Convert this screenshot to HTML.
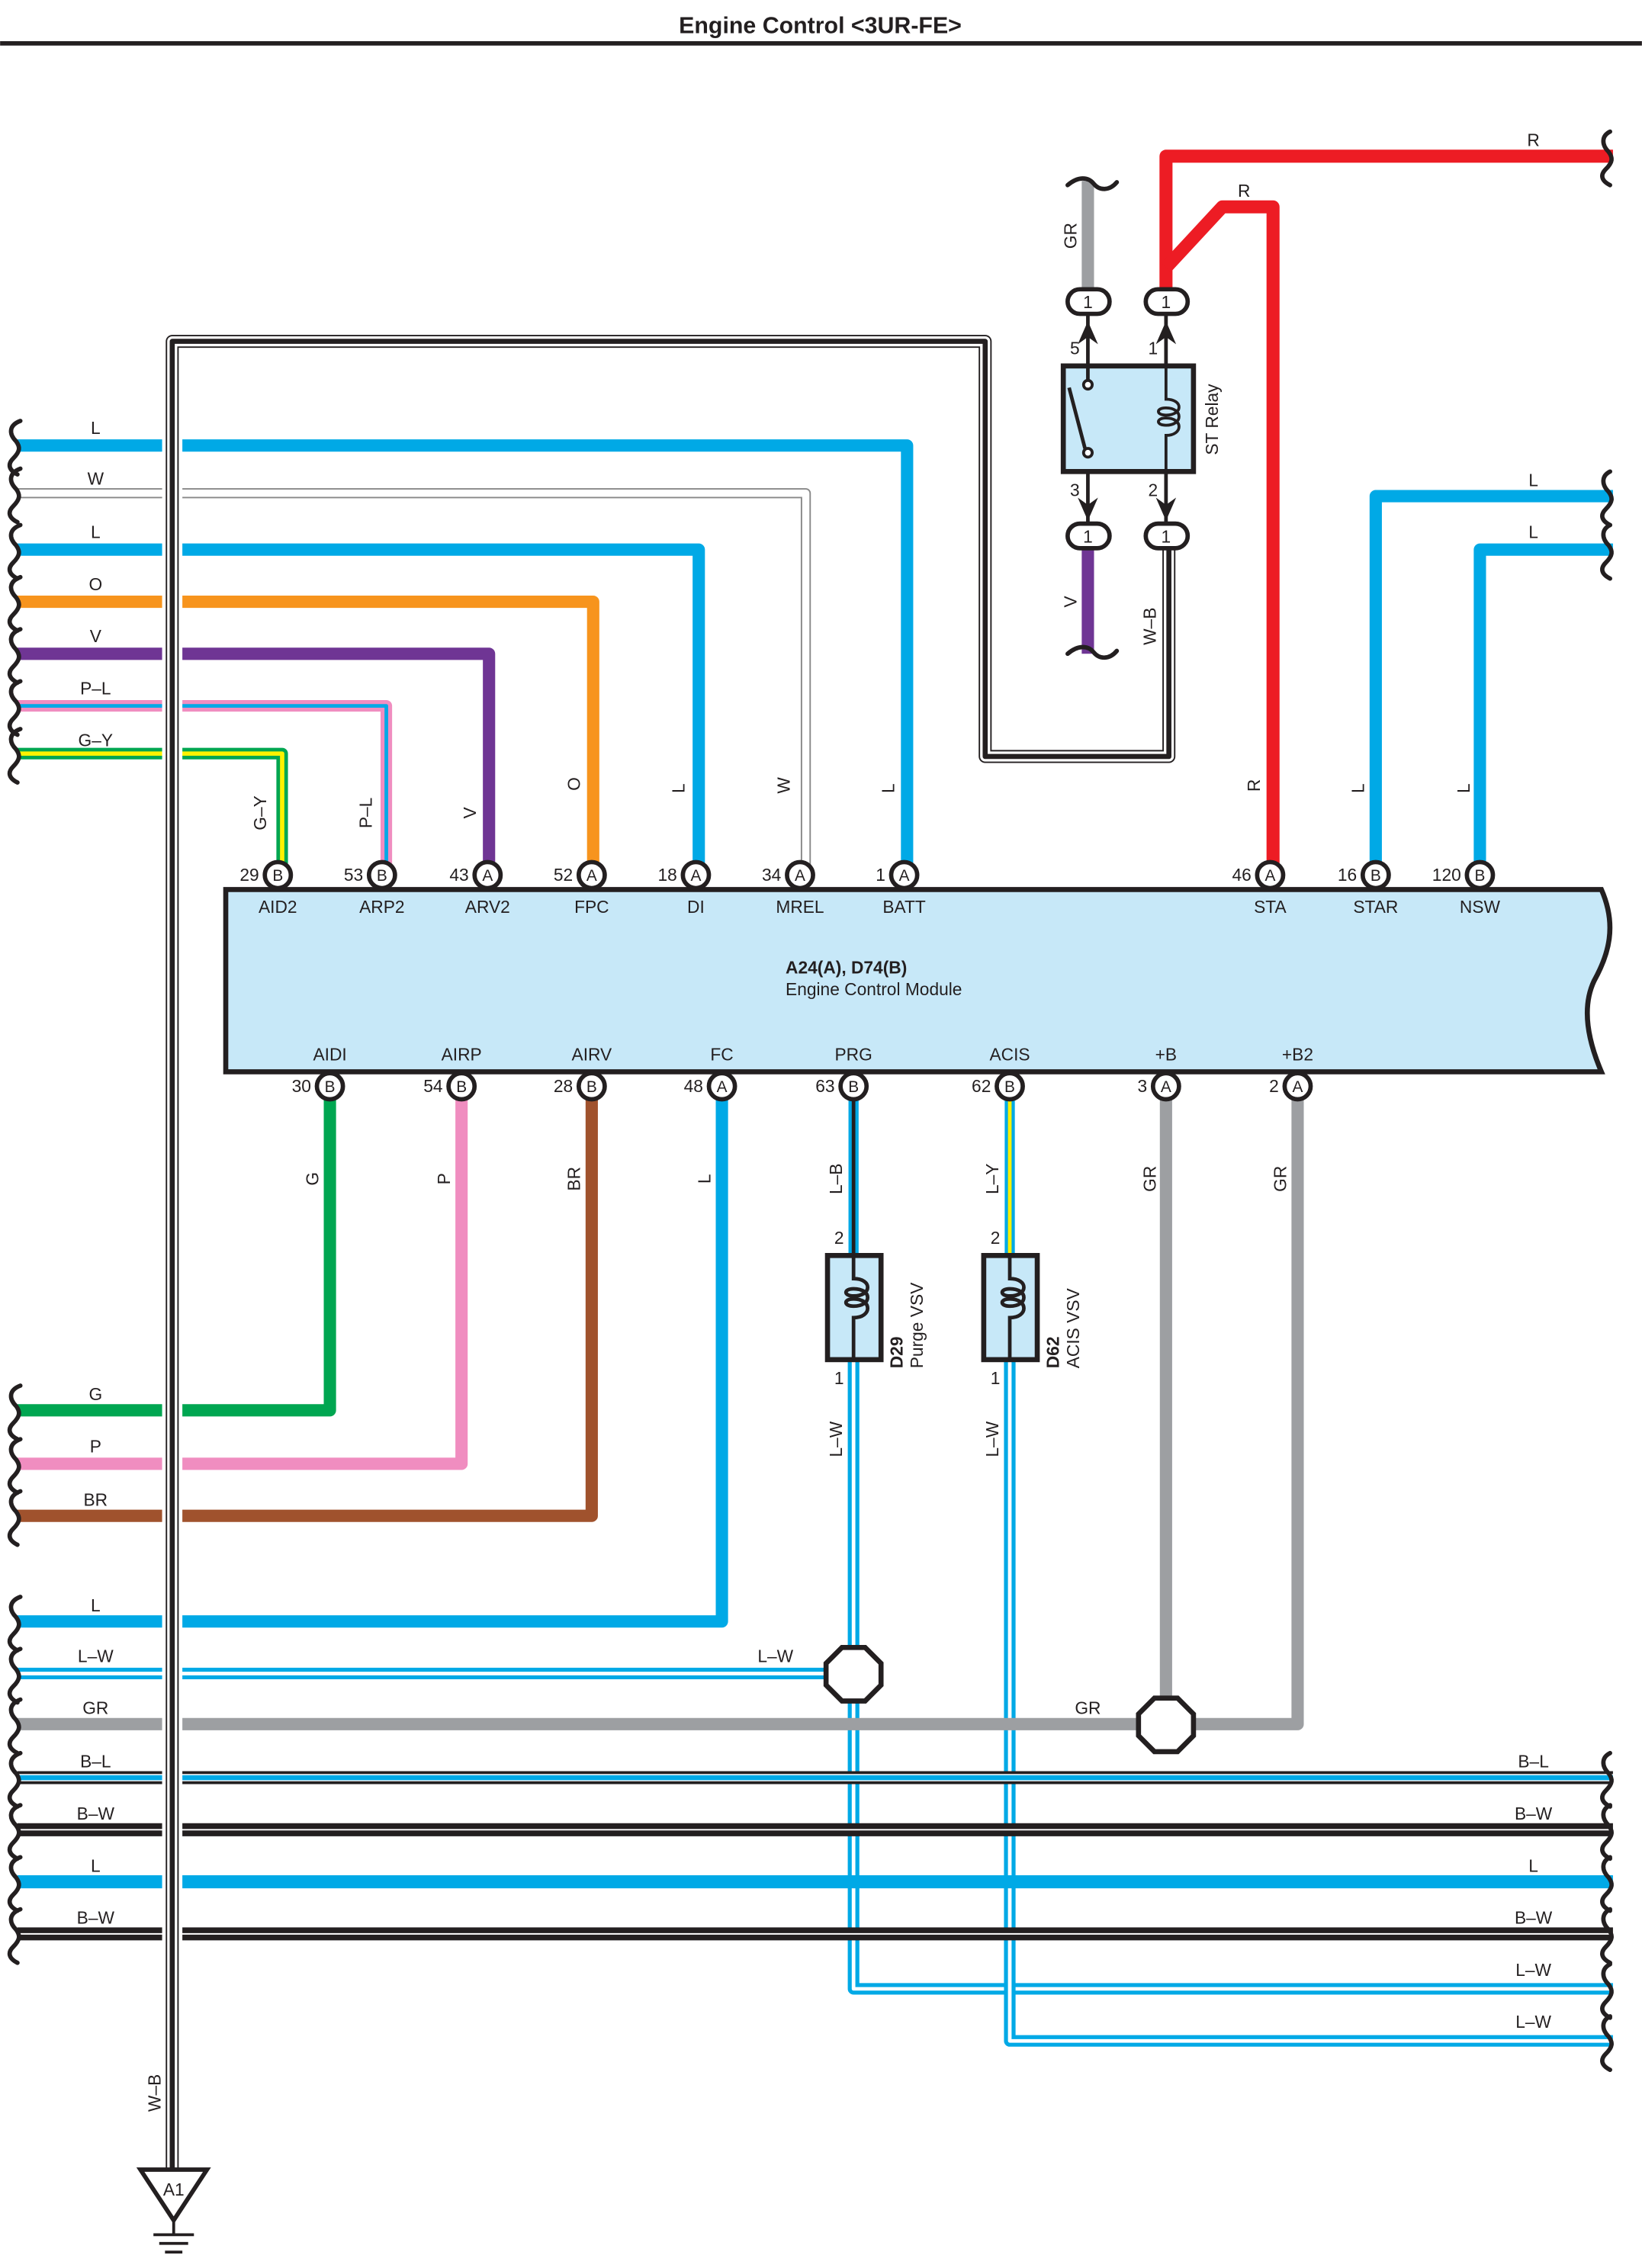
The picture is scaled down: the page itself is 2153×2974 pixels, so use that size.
<!DOCTYPE html>
<html><head><meta charset="utf-8"><style>
html,body{margin:0;padding:0;background:#fff}
svg{display:block}
text{font-family:"Liberation Sans",sans-serif;fill:#231f20}
</style></head><body>
<svg width="2153" height="2974" viewBox="0 0 1135 1568" xmlns="http://www.w3.org/2000/svg">
<defs>
<path id="wl" d="M14,-17 C6,-14 6,-8 11,-3 C14,1 14,4 9,9 C5,13 6,17 12,20" fill="none" stroke="#231f20" stroke-width="3" stroke-linecap="round"/>
<path id="wr" d="M-2,-17 C-8,-14 -8,-8 -3,-3 C0,1 0,4 -5,9 C-9,13 -8,17 -2,20" fill="none" stroke="#231f20" stroke-width="3" stroke-linecap="round"/>
</defs>
<rect width="1135" height="1568" fill="#fff"/>
<text x="567" y="23" font-size="16" font-weight="bold" text-anchor="middle">Engine Control &lt;3UR-FE&gt;</text>
<line x1="0" y1="30" x2="1135" y2="30" stroke="#231f20" stroke-width="3"/>

<g fill="none" stroke-linejoin="round">
<path d="M12,308 H627 V598" stroke="#00a9e6" stroke-width="8.5"/>
<path d="M12,341 H557 V598" stroke="#888" stroke-width="7"/>
<path d="M12,341 H557 V598" stroke="#fff" stroke-width="5"/>
<path d="M12,380 H483 V598" stroke="#00a9e6" stroke-width="8.5"/>
<path d="M12,416 H410 V598" stroke="#f7941d" stroke-width="8.5"/>
<path d="M12,452 H338 V598" stroke="#6f3594" stroke-width="8.5"/>
<path d="M12,488 H267 V598" stroke="#f08dc0" stroke-width="8"/>
<path d="M12,488 H267 V598" stroke="#00a9e6" stroke-width="2.5"/>
<path d="M12,521 H195 V598" stroke="#00a651" stroke-width="8"/>
<path d="M12,521 H195 V598" stroke="#fff200" stroke-width="3"/>

<path d="M806,200 V108 H1115" stroke="#ed1c24" stroke-width="9"/>
<path d="M806,185 L845,143 H880 V598" stroke="#ed1c24" stroke-width="9"/>
<path d="M752,125 V200" stroke="#9d9fa2" stroke-width="8.5"/>
<path d="M752,380 V452" stroke="#6f3594" stroke-width="8.5"/>
<path d="M951,598 V343 H1115" stroke="#00a9e6" stroke-width="8.5"/>
<path d="M1023,598 V380 H1115" stroke="#00a9e6" stroke-width="8.5"/>

<path d="M228,758 V975 H12" stroke="#00a651" stroke-width="8.5"/>
<path d="M319,758 V1012 H12" stroke="#f08dc0" stroke-width="8.5"/>
<path d="M409,758 V1048 H12" stroke="#a0522d" stroke-width="8.5"/>
<path d="M499,758 V1121 H12" stroke="#00a9e6" stroke-width="8.5"/>
<path d="M590,758 V868" stroke="#00a9e6" stroke-width="7"/>
<path d="M590,758 V868" stroke="#231f20" stroke-width="2.5"/>
<path d="M698,758 V868" stroke="#00a9e6" stroke-width="7"/>
<path d="M698,758 V868" stroke="#fff200" stroke-width="2.5"/>
<path d="M590,940 V1375 H1115" stroke="#00a9e6" stroke-width="8"/>
<path d="M590,940 V1375 H1115" stroke="#fff" stroke-width="2.5"/>
<path d="M698,940 V1411 H1115" stroke="#00a9e6" stroke-width="8"/>
<path d="M698,940 V1411 H1115" stroke="#fff" stroke-width="2.5"/>
<path d="M12,1157 H590" stroke="#00a9e6" stroke-width="8"/>
<path d="M12,1157 H590" stroke="#fff" stroke-width="2.5"/>
<path d="M806,758 V1192" stroke="#9d9fa2" stroke-width="8.5"/>
<path d="M897,758 V1192 H806" stroke="#9d9fa2" stroke-width="8.5"/>
<path d="M12,1192 H806" stroke="#9d9fa2" stroke-width="8.5"/>
<path d="M12,1229 H1115" stroke="#231f20" stroke-width="9"/>
<path d="M12,1229 H1115" stroke="#fff" stroke-width="5"/>
<path d="M12,1229 H1115" stroke="#00a9e6" stroke-width="3.5"/>
<path d="M12,1265 H1115" stroke="#231f20" stroke-width="9"/>
<path d="M12,1265 H1115" stroke="#fff" stroke-width="1"/>
<path d="M12,1301 H1115" stroke="#00a9e6" stroke-width="9"/>
<path d="M12,1337 H1115" stroke="#231f20" stroke-width="9"/>
<path d="M12,1337 H1115" stroke="#fff" stroke-width="1"/>

<path d="M119,1505 V236 H681 V523 H808 V380" stroke="#fff" stroke-width="14"/>
<path d="M119,1505 V236 H681 V523 H808 V380" stroke="#231f20" stroke-width="9"/>
<path d="M119,1505 V236 H681 V523 H808 V380" stroke="#fff" stroke-width="7"/>
<path d="M119,1505 V236 H681 V523 H808 V380" stroke="#231f20" stroke-width="3.5"/>
</g>

<g>
<use href="#wl" x="0" y="308"/><use href="#wl" x="0" y="341"/><use href="#wl" x="0" y="380"/><use href="#wl" x="0" y="416"/><use href="#wl" x="0" y="452"/><use href="#wl" x="0" y="488"/><use href="#wl" x="0" y="521"/>
<use href="#wl" x="0" y="975"/><use href="#wl" x="0" y="1012"/><use href="#wl" x="0" y="1048"/><use href="#wl" x="0" y="1121"/><use href="#wl" x="0" y="1157"/><use href="#wl" x="0" y="1192"/><use href="#wl" x="0" y="1229"/><use href="#wl" x="0" y="1265"/><use href="#wl" x="0" y="1301"/><use href="#wl" x="0" y="1337"/>
<use href="#wr" x="1115" y="108"/><use href="#wr" x="1115" y="343"/><use href="#wr" x="1115" y="380"/><use href="#wr" x="1115" y="1229"/><use href="#wr" x="1115" y="1265"/><use href="#wr" x="1115" y="1301"/><use href="#wr" x="1115" y="1337"/><use href="#wr" x="1115" y="1375"/><use href="#wr" x="1115" y="1411"/>
<path d="M738,128 C745,122 752,122 756,127 C760,132 767,132 772,126" fill="none" stroke="#231f20" stroke-width="3" stroke-linecap="round"/>
<path d="M738,452 C745,446 752,446 756,451 C760,456 767,456 772,450" fill="none" stroke="#231f20" stroke-width="3" stroke-linecap="round"/>
</g>

<g font-size="12" text-anchor="middle">
<text x="66" y="300">L</text><text x="66" y="335">W</text><text x="66" y="372">L</text><text x="66" y="408">O</text><text x="66" y="444">V</text><text x="66" y="480">P–L</text><text x="66" y="516">G–Y</text>
<text x="66" y="968">G</text><text x="66" y="1004">P</text><text x="66" y="1041">BR</text><text x="66" y="1114">L</text><text x="66" y="1149">L–W</text><text x="66" y="1185">GR</text><text x="66" y="1222">B–L</text><text x="66" y="1258">B–W</text><text x="66" y="1294">L</text><text x="66" y="1330">B–W</text>
<text x="1060" y="101">R</text><text x="860" y="136">R</text><text x="1060" y="336">L</text><text x="1060" y="372">L</text>
<text x="1060" y="1222">B–L</text><text x="1060" y="1258">B–W</text><text x="1060" y="1294">L</text><text x="1060" y="1330">B–W</text><text x="1060" y="1366">L–W</text><text x="1060" y="1402">L–W</text>
<text x="536" y="1149">L–W</text><text x="752" y="1185">GR</text>
</g>
<g font-size="12" text-anchor="middle">
<text transform="translate(184,562) rotate(-90)">G–Y</text>
<text transform="translate(257,562) rotate(-90)">P–L</text>
<text transform="translate(329,562) rotate(-90)">V</text>
<text transform="translate(401,542) rotate(-90)">O</text>
<text transform="translate(473,545) rotate(-90)">L</text>
<text transform="translate(546,543) rotate(-90)">W</text>
<text transform="translate(618,545) rotate(-90)">L</text>
<text transform="translate(871,543) rotate(-90)">R</text>
<text transform="translate(943,545) rotate(-90)">L</text>
<text transform="translate(1016,545) rotate(-90)">L</text>
<text transform="translate(744,163) rotate(-90)">GR</text>
<text transform="translate(744,416) rotate(-90)">V</text>
<text transform="translate(799,433) rotate(-90)">W–B</text>
<text transform="translate(220,815) rotate(-90)">G</text>
<text transform="translate(311,815) rotate(-90)">P</text>
<text transform="translate(401,815) rotate(-90)">BR</text>
<text transform="translate(491,815) rotate(-90)">L</text>
<text transform="translate(582,815) rotate(-90)">L–B</text>
<text transform="translate(690,815) rotate(-90)">L–Y</text>
<text transform="translate(799,815) rotate(-90)">GR</text>
<text transform="translate(889,815) rotate(-90)">GR</text>
<text transform="translate(582,995) rotate(-90)">L–W</text>
<text transform="translate(690,995) rotate(-90)">L–W</text>
<text transform="translate(111,1447) rotate(-90)">W–B</text>
</g>

<path d="M156,615 H1107 C1118,640 1112,660 1102,678 C1093,697 1098,720 1107,741 H156 Z" fill="#c7e8f8" stroke="#231f20" stroke-width="3.5"/>
<text x="543" y="673" font-size="12" font-weight="bold">A24(A), D74(B)</text>
<text x="543" y="688" font-size="12">Engine Control Module</text>
<g font-size="12" text-anchor="middle">
<text x="192" y="631">AID2</text><text x="264" y="631">ARP2</text><text x="337" y="631">ARV2</text><text x="409" y="631">FPC</text><text x="481" y="631">DI</text><text x="553" y="631">MREL</text><text x="625" y="631">BATT</text><text x="878" y="631">STA</text><text x="951" y="631">STAR</text><text x="1023" y="631">NSW</text>
<text x="228" y="733">AIDI</text><text x="319" y="733">AIRP</text><text x="409" y="733">AIRV</text><text x="499" y="733">FC</text><text x="590" y="733">PRG</text><text x="698" y="733">ACIS</text><text x="806" y="733">+B</text><text x="897" y="733">+B2</text>
</g>

<g font-size="11" text-anchor="middle">
<g stroke="#231f20" stroke-width="3" fill="#fff">
<circle cx="192" cy="605" r="9"/><circle cx="264" cy="605" r="9"/><circle cx="337" cy="605" r="9"/><circle cx="409" cy="605" r="9"/><circle cx="481" cy="605" r="9"/><circle cx="553" cy="605" r="9"/><circle cx="625" cy="605" r="9"/><circle cx="878" cy="605" r="9"/><circle cx="951" cy="605" r="9"/><circle cx="1023" cy="605" r="9"/>
<circle cx="228" cy="751" r="9"/><circle cx="319" cy="751" r="9"/><circle cx="409" cy="751" r="9"/><circle cx="499" cy="751" r="9"/><circle cx="590" cy="751" r="9"/><circle cx="698" cy="751" r="9"/><circle cx="806" cy="751" r="9"/><circle cx="897" cy="751" r="9"/>
</g>
<text x="192" y="609">B</text><text x="264" y="609">B</text><text x="337" y="609">A</text><text x="409" y="609">A</text><text x="481" y="609">A</text><text x="553" y="609">A</text><text x="625" y="609">A</text><text x="878" y="609">A</text><text x="951" y="609">B</text><text x="1023" y="609">B</text>
<text x="228" y="755">B</text><text x="319" y="755">B</text><text x="409" y="755">B</text><text x="499" y="755">A</text><text x="590" y="755">B</text><text x="698" y="755">B</text><text x="806" y="755">A</text><text x="897" y="755">A</text>
</g>
<g font-size="12" text-anchor="end">
<text x="179" y="609">29</text><text x="251" y="609">53</text><text x="324" y="609">43</text><text x="396" y="609">52</text><text x="468" y="609">18</text><text x="540" y="609">34</text><text x="612" y="609">1</text><text x="865" y="609">46</text><text x="938" y="609">16</text><text x="1010" y="609">120</text>
<text x="215" y="755">30</text><text x="306" y="755">54</text><text x="396" y="755">28</text><text x="486" y="755">48</text><text x="577" y="755">63</text><text x="685" y="755">62</text><text x="793" y="755">3</text><text x="884" y="755">2</text>
</g>

<g stroke="#231f20" fill="none">
<line x1="752" y1="215" x2="752" y2="368" stroke-width="2.5"/>
<line x1="806" y1="215" x2="806" y2="368" stroke-width="2.5"/>
<rect x="735" y="253" width="90" height="73" fill="#c7e8f8" stroke-width="3.5"/>
<line x1="752" y1="253" x2="752" y2="263" stroke-width="2.5"/>
<circle cx="752" cy="266" r="3" fill="#fff" stroke-width="2"/>
<circle cx="752" cy="313" r="3" fill="#fff" stroke-width="2"/>
<line x1="739" y1="268" x2="750" y2="310" stroke-width="2.5"/>
<rect x="800" y="262" width="20" height="50" fill="#c7e8f8" stroke="none"/>
<path d="M806,253 V276 C818,276 818,287 806,287 C799,287 799,282 806,282 C818,282 818,294 806,294 C799,294 799,289 806,289 C818,289 818,301 806,301 V326" stroke-width="2"/>
<g fill="#231f20" stroke="none">
<path d="M745,238 L752,222 L759,238 L752,233 Z"/><path d="M799,238 L806,222 L813,238 L806,233 Z"/>
<path d="M745,344 L752,360 L759,344 L752,349 Z"/><path d="M799,344 L806,360 L813,344 L806,349 Z"/>
</g>
<g fill="#fff" stroke-width="3">
<rect x="738" y="200" width="29" height="17" rx="8.5"/><rect x="792" y="200" width="29" height="17" rx="8.5"/>
<rect x="738" y="362" width="29" height="17" rx="8.5"/><rect x="792" y="362" width="29" height="17" rx="8.5"/>
</g>
</g>
<g font-size="12" text-anchor="middle">
<text x="752" y="213">1</text><text x="806" y="213">1</text><text x="752" y="375">1</text><text x="806" y="375">1</text>
<text x="743" y="245">5</text><text x="797" y="245">1</text><text x="743" y="343">3</text><text x="797" y="343">2</text>
<text transform="translate(842,290) rotate(-90)">ST Relay</text>
</g>

<g stroke="#231f20" fill="#c7e8f8">
<rect x="572" y="868" width="37" height="72" stroke-width="3.5"/>
<path d="M590,868 V884 C603,884 603,896 590,896 C583,896 583,891 590,891 C603,891 603,903 590,903 C583,903 583,898 590,898 C603,898 603,911 590,911 V940" stroke-width="2.5" fill="none"/>
<rect x="680" y="868" width="37" height="72" stroke-width="3.5"/>
<path d="M698,868 V884 C711,884 711,896 698,896 C691,896 691,891 698,891 C711,891 711,903 698,903 C691,903 691,898 698,898 C711,898 711,911 698,911 V940" stroke-width="2.5" fill="none"/>
</g>
<g font-size="12" text-anchor="middle">
<text x="580" y="860">2</text><text x="580" y="957">1</text><text x="688" y="860">2</text><text x="688" y="957">1</text>
</g>
<g font-size="12">
<text transform="translate(624,946) rotate(-90)" font-weight="bold">D29</text>
<text transform="translate(638,946) rotate(-90)">Purge VSV</text>
<text transform="translate(732,946) rotate(-90)" font-weight="bold">D62</text>
<text transform="translate(746,946) rotate(-90)">ACIS VSV</text>
</g>

<polygon points="582,1139 598,1139 609,1150 609,1165 598,1176 582,1176 571,1165 571,1150" fill="#fff" stroke="#231f20" stroke-width="3.5"/>
<polygon points="798,1174 814,1174 825,1185 825,1200 814,1211 798,1211 787,1200 787,1185" fill="#fff" stroke="#231f20" stroke-width="3.5"/>

<polygon points="97,1500 143,1500 120,1535" fill="#fff" stroke="#231f20" stroke-width="3"/>
<text x="120" y="1518" font-size="12" text-anchor="middle">A1</text>
<g stroke="#231f20" stroke-width="2">
<line x1="120" y1="1535" x2="120" y2="1545"/>
<line x1="106" y1="1545" x2="134" y2="1545"/>
<line x1="110" y1="1551" x2="130" y2="1551"/>
<line x1="114" y1="1557" x2="126" y2="1557"/>
</g>
</svg>
</body></html>
